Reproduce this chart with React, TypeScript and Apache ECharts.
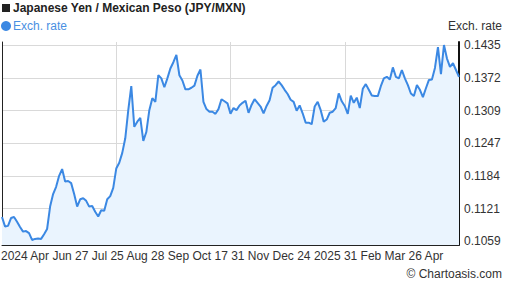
import React, { useEffect, useRef } from "react";
import * as echarts from "echarts";

const rates: number[] = [
  0.1105, 0.1087, 0.1088, 0.1103, 0.1105, 0.1096, 0.1086, 0.1077, 0.1078, 0.1074,
  0.1061, 0.1063, 0.1064, 0.1063, 0.1072, 0.1082, 0.1125, 0.1149, 0.1163, 0.1184,
  0.1197, 0.1173, 0.1174, 0.1170, 0.1149, 0.1125, 0.1139, 0.1141, 0.1136, 0.1125,
  0.1126, 0.1115, 0.1106, 0.1118, 0.1117, 0.1139, 0.1145, 0.1161, 0.1198, 0.1209,
  0.1228, 0.1256, 0.1310, 0.1356, 0.1278, 0.1288, 0.1295, 0.1251, 0.1268, 0.1310,
  0.1333, 0.1326, 0.1377, 0.1371, 0.1354, 0.1371, 0.1390, 0.1402, 0.1416, 0.1377,
  0.1367, 0.1350, 0.1350, 0.1353, 0.1357, 0.1376, 0.1388, 0.1326, 0.1312, 0.1307,
  0.1307, 0.1303, 0.1312, 0.1331, 0.1327, 0.1323, 0.1303, 0.1314, 0.1310, 0.1319,
  0.1324, 0.1328, 0.1305, 0.1320, 0.1331, 0.1324, 0.1317, 0.1304, 0.1318, 0.1329,
  0.1353, 0.1358, 0.1365, 0.1358, 0.1349, 0.1341, 0.1330, 0.1326, 0.1309, 0.1319,
  0.1304, 0.1286, 0.1286, 0.1283, 0.1317, 0.1326, 0.1310, 0.1288, 0.1292, 0.1305,
  0.1307, 0.1314, 0.1342, 0.1327, 0.1318, 0.1303, 0.1338, 0.1324, 0.1334, 0.1314,
  0.1351, 0.1360, 0.1349, 0.1338, 0.1337, 0.1337, 0.1356, 0.1371, 0.1374, 0.1369,
  0.1392, 0.1374, 0.1371, 0.1387, 0.1371, 0.1358, 0.1342, 0.1337, 0.1358, 0.1349,
  0.1335, 0.1352, 0.1368, 0.1369, 0.1391, 0.1431, 0.1379, 0.1435, 0.1409, 0.1393,
  0.1400, 0.1387, 0.1374,
];

// Category labels: dates spread over the charted year
const startDate = new Date(Date.UTC(2024, 3, 26));
const endDate = new Date(Date.UTC(2025, 3, 25));
const categories: string[] = rates.map((_, i) => {
  const t =
    startDate.getTime() +
    ((endDate.getTime() - startDate.getTime()) * i) / (rates.length - 1);
  return new Date(t).toISOString().slice(0, 10);
});

const yTicks: number[] = [0.1059, 0.1121, 0.1184, 0.1247, 0.1309, 0.1372, 0.1435];
const xTickLabels: string[] = [
  "2024", "Apr", "Jun", "27", "Jul", "25", "Aug", "28", "Sep", "Oct", "17", "31",
  "Nov", "Dec", "24", "2025", "31", "Feb", "Mar", "26", "Apr",
];

const titleText = "Japanese Yen / Mexican Peso (JPY/MXN)";
const seriesName = "Exch. rate";
const axisName = "Exch. rate";
const credit = "\u00a9 Chartoasis.com";

const FONT = '"Liberation Sans", Arial, sans-serif';
const LINE = "#3b88e3";

export default function App() {
  const ref = useRef<HTMLDivElement>(null);
  useEffect(() => {
    if (!ref.current) return;
    const chart = echarts.init(ref.current, null, { renderer: "svg" });
    const pad = 0.000192;
    const yMin = yTicks[0] - 4 * pad;
    const yMax = yTicks[yTicks.length - 1] + 3 * pad;
    const n = rates.length - 1;
    chart.setOption({
      animation: false,
      backgroundColor: "#ffffff",
      textStyle: { fontFamily: FONT },
      grid: { left: 2, right: 48, top: 42, bottom: 43, containLabel: false },
      legend: {
        left: 1,
        top: 20,
        icon: "circle",
        itemWidth: 10,
        itemHeight: 10,
        itemGap: 0,
        padding: 0,
        textStyle: { fontSize: 12, color: "#4a90e2", fontFamily: FONT, padding: [0, 0, 0, -3] },
        data: [seriesName],
      },
      xAxis: {
        type: "category",
        data: categories,
        boundaryGap: false,
        axisLine: { show: true, lineStyle: { color: "#222", width: 1 } },
        axisTick: { show: false },
        axisLabel: { show: false },
        splitLine: {
          show: true,
          interval: (index: number) => index > 0 && index < n && index % (n / 4) === 0,
          lineStyle: { color: "#d9d9d9", width: 1 },
        },
      },
      yAxis: [
        {
          type: "value",
          position: "right",
          min: yMin,
          max: yMax,
          axisLine: { show: true, lineStyle: { color: "#111", width: 2 } },
          axisTick: { show: false, customValues: yTicks },
          axisLabel: {
            show: true,
            customValues: yTicks,
            margin: 5,
            fontSize: 12,
            color: "#333",
            fontFamily: FONT,
            formatter: (v: number) => v.toFixed(4),
          },
          splitLine: { show: true, lineStyle: { color: "#d9d9d9", width: 1 } },
        },
        {
          type: "value",
          position: "left",
          min: yMin,
          max: yMax,
          axisLine: { show: true, lineStyle: { color: "#222", width: 1 } },
          axisTick: { show: false },
          axisLabel: { show: false },
          splitLine: { show: false },
        },
      ],
      series: [
        {
          name: seriesName,
          type: "line",
          data: rates,
          yAxisIndex: 0,
          showSymbol: false,
          symbol: "circle",
          lineStyle: { color: LINE, width: 2 },
          itemStyle: { color: LINE },
          areaStyle: { color: "#eaf4fe", opacity: 1 },
        },
      ],
      graphic: [
        { type: "rect", shape: { x: 2, y: 4, width: 8, height: 8 }, style: { fill: "#222" } },
        {
          type: "text",
          x: 13,
          y: 2,
          style: { text: titleText, font: `bold 12px ${FONT}`, fill: "#222" },
        },
        {
          type: "text",
          right: 5,
          top: 20,
          style: { text: axisName, font: `12px ${FONT}`, fill: "#333" },
        },
        {
          type: "text",
          x: 1,
          y: 250,
          style: { text: xTickLabels.join(" "), font: `12px ${FONT}`, fill: "#333" },
        },
        {
          type: "text",
          right: 5,
          top: 268,
          style: { text: credit, font: `12px ${FONT}`, fill: "#333" },
        },
      ],
    });
    return () => chart.dispose();
  }, []);
  return (
    <div
      ref={ref}
      style={{ position: "fixed", left: 0, top: 0, width: 507, height: 288 }}
    />
  );
}
